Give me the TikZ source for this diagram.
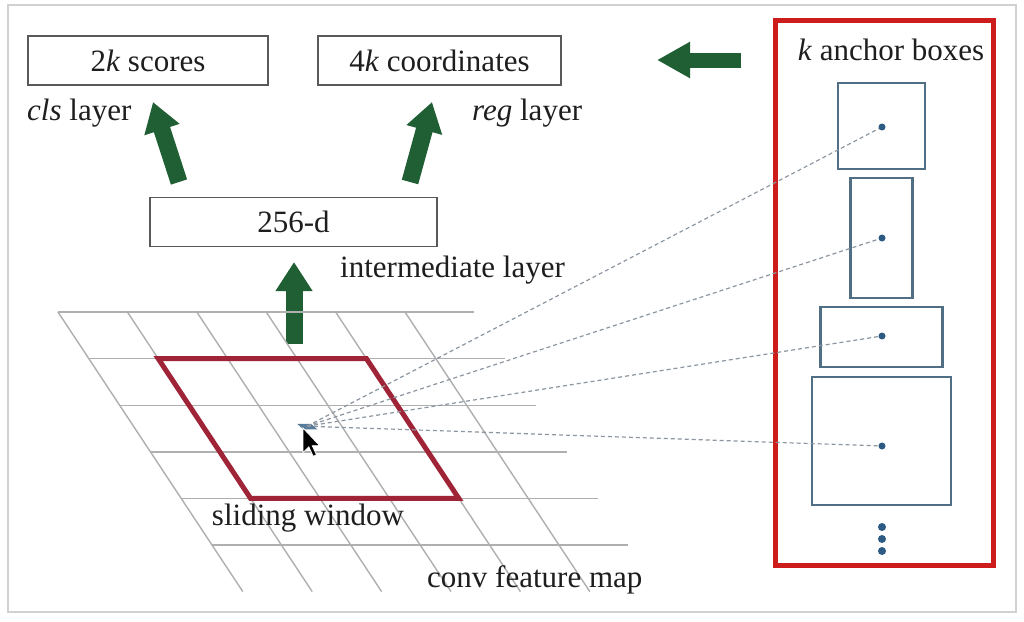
\documentclass[tikz,border=0pt]{standalone}
\usepackage{fontspec}
\setmainfont{Liberation Serif}
\usetikzlibrary{arrows.meta}
\definecolor{arrgreen}{RGB}{32,94,52}
\definecolor{winred}{RGB}{160,36,56}
\definecolor{boxred}{RGB}{204,28,28}
\definecolor{anchorblue}{RGB}{80,110,132}
\definecolor{dotblue}{RGB}{45,90,130}
\definecolor{gridgray}{RGB}{175,175,175}
\definecolor{linkgray}{RGB}{140,150,160}
\definecolor{txt}{RGB}{30,30,30}
\tikzset{
  lbl/.style={font=\fontsize{31}{37}\selectfont, text=txt, inner sep=0pt},
  layerbox/.style={draw=black!65, line width=1.6pt, minimum height=49pt, inner sep=0pt, font=\fontsize{31}{37}\selectfont, text=txt},
  anchorbox/.style={draw=anchorblue, line width=2.2pt, inner sep=0pt},
  adot/.style={circle, fill=dotblue, minimum size=7pt, inner sep=0pt},
  fat/.style={draw=arrgreen, line width=17pt, -{Triangle[width=35pt,length=29pt]}, fill=arrgreen},
  gridline/.style={draw=gridgray, line width=1.4pt},
  link/.style={draw=linkgray, line width=1.2pt, dash pattern=on 4pt off 3pt},
}
\begin{document}
\begin{tikzpicture}[x=1pt,y=-1pt]
\useasboundingbox (0,0) rectangle (1024,621);
\fill[white] (0,0) rectangle (1024,621);
\draw[black!18, line width=1.5pt] (8,5) rectangle (1016,612);

% output boxes
\node[layerbox, minimum width=240pt] (cls) at (148,60.5) {2\textit{k} scores};
\node[layerbox, minimum width=243pt] (reg) at (439.5,60.5) {4\textit{k} coordinates};
\node[layerbox, minimum width=287pt] (mid) at (293.5,222) {256-d};
\node[lbl, anchor=west] (clsl) at (27,113) {\textit{cls} layer};
\node[lbl, anchor=west] (regl) at (472,113) {\textit{reg} layer};
\node[lbl, anchor=west] (midl) at (340,270) {intermediate layer};

% green arrows
\coordinate (a1s) at (179,182); \coordinate (a1e) at (153,102);
\coordinate (a2s) at (410,182); \coordinate (a2e) at (432,102);
\coordinate (a3s) at (294,344); \coordinate (a3e) at (294,262);
\coordinate (a4s) at (741,60);  \coordinate (a4e) at (657,60);
\draw[fat] (a1s) -- (a1e);
\draw[fat] (a2s) -- (a2e);
\draw[fat] (a3s) -- (a3e);
\draw[fat, line width=15pt, -{Triangle[width=34pt,length=33pt]}] (a4s) -- (a4e);

% feature map grid (sheared)
\begin{scope}[shift={(58,312)}, x={(69.4pt,0pt)}, y={(30.8pt,-46.6pt)}]
  \foreach \r in {0,...,5} { \draw[gridline] (0,\r) -- (6,\r); }
  \foreach \c in {0,...,5} { \draw[gridline] (\c,0) -- (\c,6); }
  \draw[winred, line width=5pt, line join=miter] (1,1) -- (4,1) -- (4,4) -- (1,4) -- cycle;
  \coordinate (ctr) at (2.5,2.45);
  \fill[dotblue!80] (2.38,2.40) -- (2.58,2.40) -- (2.62,2.52) -- (2.42,2.52) -- cycle;
\end{scope}

\node[lbl] (slide) at (308,518) {sliding window};
\node[lbl, anchor=west] (conv) at (427,580) {conv feature map};

% anchor boxes panel
\node[draw=boxred, line width=5pt, minimum width=218pt, minimum height=545pt, inner sep=0pt] (panel) at (884,292.5) {};
\node[lbl] (ktxt) at (891,50) {\textit{k} anchor boxes};
\node[anchorbox, minimum width=87pt, minimum height=86pt] (b1) at (881.5,126) {};
\node[anchorbox, minimum width=62pt, minimum height=120pt] (b2) at (881.5,238) {};
\node[anchorbox, minimum width=122pt, minimum height=60pt] (b3) at (881.5,337) {};
\node[anchorbox, minimum width=139pt, minimum height=128pt] (b4) at (881.5,441) {};
\node[adot] (d1) at (882,127) {};
\node[adot] (d2) at (882,238) {};
\node[adot] (d3) at (882,336) {};
\node[adot] (d4) at (882,446) {};
\node[adot, minimum size=8pt] (e1) at (882,527) {};
\node[adot, minimum size=8pt] (e2) at (882,539) {};
\node[adot, minimum size=8pt] (e3) at (882,551) {};

% dashed links
\foreach \d in {d1,d2,d3,d4} { \draw[link] (ctr) -- (\d); }

% mouse cursor
\begin{scope}[shift={(303,428)}, x=1.45pt, y=-1.45pt]
  \draw[white, fill=black, line width=0.8pt, line join=miter] (0,0) -- (0,17) -- (4,13) -- (7,19.5) -- (9.3,18.5) -- (6.4,12.2) -- (11.5,12.2) -- cycle;
\end{scope}
\end{tikzpicture}
\end{document}
